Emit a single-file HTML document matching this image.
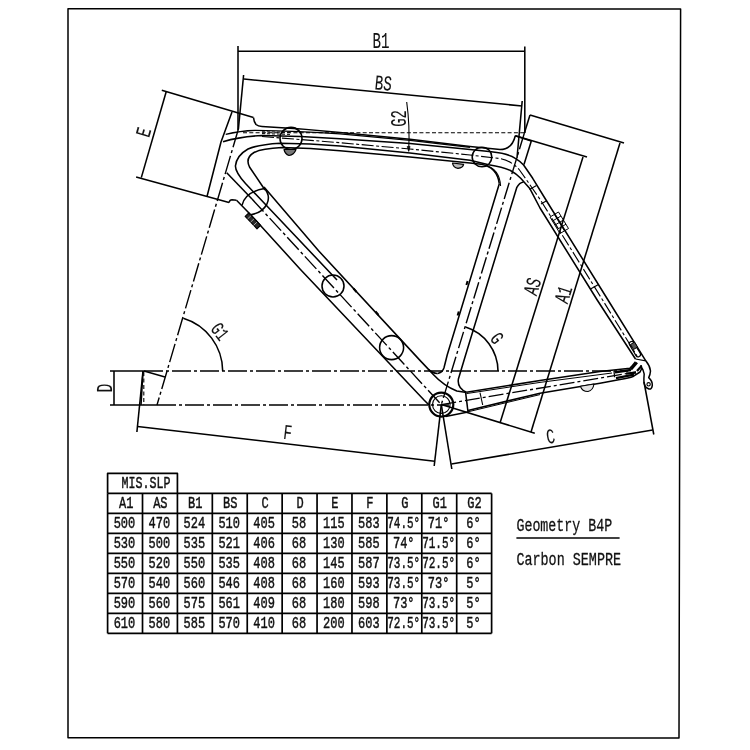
<!DOCTYPE html>
<html lang="en">
<head>
<meta charset="utf-8">
<title>Geometry B4P - Carbon SEMPRE</title>
<style>
html,body{margin:0;padding:0;background:#fff;}
body{width:750px;height:750px;overflow:hidden;font-family:"Liberation Mono",monospace;}
svg{display:block;}
svg *{stroke:#000;stroke-linecap:butt;stroke-linejoin:round;}

svg text{font-family:"Liberation Mono",monospace;fill:#111;}
</style>
</head>
<body>
<svg width="750" height="750" viewBox="0 0 750 750">
<defs><filter id="gray" x="0" y="0" width="750" height="750" filterUnits="userSpaceOnUse" color-interpolation-filters="sRGB"><feColorMatrix type="saturate" values="0"/></filter></defs>
<rect x="0" y="0" width="750" height="750" style="fill:#fff;stroke:none"/>
<g filter="url(#gray)">
<path d="M68,8.7 L680.6,9 L679,738 L68,737.7 Z" stroke-width="1.5" fill="none"/>
<line x1="238" y1="46" x2="238" y2="130" stroke-width="1.55"/>
<line x1="524.8" y1="46.5" x2="524.8" y2="133" stroke-width="1.55"/>
<line x1="238" y1="51.3" x2="524.8" y2="51.3" stroke-width="1.55"/>
<line x1="243.6" y1="75" x2="238.4" y2="129" stroke-width="1.55"/>
<line x1="522.2" y1="101" x2="517" y2="158" stroke-width="1.55"/>
<line x1="244" y1="79" x2="522" y2="106" stroke-width="1.55"/>
<text transform="translate(381.00,41.00) rotate(0) scale(0.6664,1)" y="7.00" font-size="21.25" text-anchor="middle" font-weight="normal" style="stroke:#111;stroke-width:0.1">B1</text>
<text transform="translate(383.40,83.00) rotate(5.6) scale(0.6664,1)" y="7.00" font-size="21.25" text-anchor="middle" font-weight="normal" style="stroke:#111;stroke-width:0.1">BS</text>
<line x1="243" y1="132.7" x2="524" y2="132.7" stroke-width="1.1" stroke-dasharray="4 2.3"/>
<path d="M406.7,102 Q410,126 408.7,150.7" stroke-width="1.1" fill="none"/>
<path d="M408.7,151.5 l-1.6,-5 l3,0 z" stroke-width="0.6" fill="#111"/>
<text transform="translate(398.50,118.50) rotate(-90) scale(0.6507,1)" y="7.00" font-size="21.25" text-anchor="middle" font-weight="normal" style="stroke:#111;stroke-width:0.1">G2</text>
<line x1="161.8" y1="90.3" x2="253.5" y2="117.6" stroke-width="1.55"/>
<line x1="166.2" y1="91.7" x2="141.3" y2="177.6" stroke-width="1.55"/>
<line x1="136.1" y1="176.9" x2="229" y2="202.6" stroke-width="1.55"/>
<text transform="translate(143.50,132.10) rotate(-73.5) scale(0.6664,1)" y="7.00" font-size="21.25" text-anchor="middle" font-weight="normal" style="stroke:#111;stroke-width:0.1">E</text>
<path d="M232,112 L221,142 L207,196.5" stroke-width="1.55" fill="none"/>
<path d="M253.5,117.6 Q254,122 256,124.5 Q258,126.3 262,126.6" stroke-width="1.55" fill="none"/>
<path d="M229,202.6 Q229.8,199.8 232,199.8 L236.5,200.3" stroke-width="1.55" fill="none"/>
<line x1="238.4" y1="129" x2="157" y2="405" stroke-width="1.4" stroke-dasharray="19 3 3 3"/>
<path d="M262,126.6 Q300,128.5 340,132.6 L410,139.2 L470,146.5 L500,149.6 Q512,149.5 515.3,135.7" stroke-width="1.55" fill="none"/>
<path d="M225.7,134.3 Q240,130.6 255,130.3 Q300,131 340,133.9 L410,140.4 L470,147.4" stroke-width="1.2" fill="none"/>
<path d="M223,141.7 Q240,136.5 262,135.5 Q300,135.8 340,138.7 L410,143.4 L470,149.4 L491.3,151.8 Q508,153.5 515.3,158.3 Q520,161 523.6,165 L532.7,178.3 L546,200 L608,300 L645.8,360.8" stroke-width="1.55" fill="none"/>
<path d="M262,136.5 L340,142.7 L410,149 L470,155 L500,158.6 Q512,161 519.5,170 L528,182 L540.5,200 L602.6,300 L637,356" stroke-width="1.1" fill="none" stroke-dasharray="12 2.5 3 2.5"/>
<path d="M337,280 L266,205 L245.5,183.5 Q235.5,172.5 235.4,166 Q236.5,155.5 248,149 Q258,144.5 280,143.2 Q310,143.5 340,146 L410,153 L470,160.2 L488.7,164.8 Q503,167.3 510,170.3 Q516,173.5 520.7,178.3 L530,188.8 L540,208 L597.2,300 L635.5,359" stroke-width="1.55" fill="none"/>
<path d="M265,190 L249.5,167 Q245,158 254,152.5 Q262,148.5 282,147.6 Q310,147.8 340,150.7 L410,157 L470,163 L481,164.3 Q497,167 499.3,183.7" stroke-width="1.55" fill="none"/>
<path d="M484.7,165.3 Q499.5,168.5 500.6,186" stroke-width="1.1" fill="none"/>
<line x1="262" y1="131.8" x2="290" y2="132.4" stroke-width="1" stroke-dasharray="3 2"/>
<line x1="262" y1="133.6" x2="290" y2="134.4" stroke-width="1" stroke-dasharray="3 2"/>
<circle cx="291" cy="138.4" r="11" stroke-width="1.55" fill="none"/>
<circle cx="482" cy="157" r="9.8" stroke-width="1.55" fill="none"/>
<path d="M284,149.5 Q285,154 289,155.5 Q294,155 296,149.5 Z" stroke-width="1.2" fill="#777"/>
<path d="M452.5,163 Q453,167.5 458,168.3 Q463,167.8 463.6,164.3 Z" stroke-width="1.2" fill="#bbb"/>
<path d="M515.3,135.7 L531.3,141" stroke-width="1.55" fill="none"/>
<path d="M531.3,141 L524,164.6" stroke-width="1.55" fill="none"/>
<path d="M499.3,183.7 L447.2,355 L444,367.8 Q442.5,372.6 437.6,373.4" stroke-width="1.55" fill="none"/>
<path d="M523.6,182 Q519.3,182.6 516.7,187.7 L465.6,355 L458.4,379 Q457,388 466.4,392.2" stroke-width="1.55" fill="none"/>
<line x1="524.4" y1="133" x2="441.3" y2="404.6" stroke-width="1.4" stroke-dasharray="17 3 3 3"/>
<line x1="524.4" y1="133" x2="530" y2="115" stroke-width="1.55"/>
<path d="M467.6,281 l-1.2,4 M458.8,311.5 l-1.2,4" stroke-width="2" fill="none"/>
<line x1="515.3" y1="135.7" x2="587" y2="157" stroke-width="1.55"/>
<line x1="530" y1="115" x2="624" y2="143" stroke-width="1.55"/>
<line x1="583" y1="157" x2="500" y2="423" stroke-width="1.55"/>
<line x1="620" y1="143" x2="531" y2="432" stroke-width="1.55"/>
<line x1="441.3" y1="404.6" x2="534.8" y2="433.2" stroke-width="1.55"/>
<text transform="translate(532.40,286.40) rotate(-72.7) scale(0.6664,1)" y="7.00" font-size="21.25" text-anchor="middle" font-weight="normal" style="stroke:#111;stroke-width:0.1">AS</text>
<text transform="translate(563.40,294.40) rotate(-72.7) scale(0.6664,1)" y="7.00" font-size="21.25" text-anchor="middle" font-weight="normal" style="stroke:#111;stroke-width:0.1">A1</text>
<path d="M529.5,189.5 l7,-4 M541,204 l6,-3.5" stroke-width="1.1" fill="none"/>
<path d="M550,217 l8.5,-5 l10,16.5 l-8.5,5 z M552.5,221 l8.5,-5 M555,225 l8.5,-5 M557.5,229.2 l8.5,-5 M554.5,214.5 l10,16.5" stroke-width="1" fill="none"/>
<path d="M590.5,289 l8,-4.6" stroke-width="1.1" fill="none"/>
<path d="M264,187 L318.8,251 L420,360.4 L428.5,369.4 Q433,373.6 437.6,373.4" stroke-width="1.55" fill="none"/>
<path d="M428.5,369.4 L432.8,374 Q444,386 456.8,391 L466.4,392.4" stroke-width="1.55" fill="none"/>
<path d="M236.5,200.3 L250.7,214.7 L300,269 L424,400 L429,405" stroke-width="1.55" fill="none"/>
<path d="M226.7,172.7 L252,199" stroke-width="1.55" fill="none"/>
<line x1="252" y1="199" x2="441.3" y2="404.6" stroke-width="1.4" stroke-dasharray="17 3 3 3"/>
<path d="M242,205.3 Q245,192 264.5,188.5 Q271,196 266.7,204.5 Q262,213 250.7,214.7" stroke-width="1.55" fill="none"/>
<circle cx="333" cy="286" r="11" stroke-width="1.55" fill="none"/>
<circle cx="391.6" cy="347.6" r="12" stroke-width="1.55" fill="none"/>
<path d="M245.2,216.4 L257,228.8 L260.6,225.4 L248.8,213 Z" stroke-width="1.2" fill="#2a2a2a"/>
<path d="M247.5,219 l3.4,-3.2 M250.5,222.2 l3.4,-3.2 M253.5,225.4 l3.4,-3.2" stroke-width="0.7" fill="none" style="stroke:#ddd"/>
<path d="M353.5,288.5 l3,3.5 M375.5,311.5 l3,3.5" stroke-width="2" fill="none"/>
<circle cx="441.3" cy="404.6" r="12" stroke-width="2.2" fill="none"/>
<circle cx="441.3" cy="404.6" r="8.8" stroke-width="1.1" fill="none"/>
<path d="M466.4,392.2 L540,380.6 L600,371.6 L629.9,368.3 L631.7,366.4 L635.5,361.7" stroke-width="1.55" fill="none"/>
<path d="M466.4,393.6 L540,382.4 L612,373" stroke-width="1" fill="none"/>
<line x1="441.3" y1="404.6" x2="636" y2="372" stroke-width="1.3" stroke-dasharray="15 3 3 3"/>
<path d="M468,410.4 L540,393.2 L600,383.2 L620,379.6 Q629,378 633.6,376.2 L640,372 L642,368" stroke-width="1.55" fill="none"/>
<path d="M468,411.8 L540,394.6" stroke-width="1" fill="none"/>
<path d="M465.6,392.4 L468,412" stroke-width="1.55" fill="none"/>
<path d="M480,392.6 L482.7,405" stroke-width="1.1" fill="none"/>
<path d="M445.6,416.6 L468,412" stroke-width="1.55" fill="none"/>
<path d="M580.5,386.3 Q582,391.5 588,391.5 Q593,390.5 594,384 Z" stroke-width="1.1" fill="#e4e4e4"/>
<path d="M614,371 L614.6,377.2" stroke-width="1.2" fill="none"/>
<path d="M615,372.2 L631,370" stroke-width="2.4" fill="none"/>
<path d="M616,378.2 L634,374.6" stroke-width="2.2" fill="none"/>
<path d="M626,373.6 L636,372.6" stroke-width="2.2" fill="none"/>
<path d="M631,369.5 L637,362.5" stroke-width="2.6" fill="none"/>
<path d="M637,371 L641.5,366" stroke-width="2.2" fill="none"/>
<path d="M629.6,345 L636,355.6 A2.4,2.4 0 0 0 640.2,353.2 L633.8,342.6 A2.4,2.4 0 0 0 629.6,345 Z" stroke-width="1.2" fill="none"/>
<path d="M630.5,344.5 l4,-2.4 l3,5 l-4,2.4 z" stroke-width="1" fill="#555"/>
<path d="M635.5,359 L645.8,360.8" stroke-width="1.2" fill="none"/>
<path d="M645.8,360.8 Q650,366 650.5,371 Q650.2,375 648.7,377.6 Q652.6,381 652.3,385.5 Q651.6,389.6 649,389 L646.5,387.8 Q643.5,385 643.9,378.5 Q645,374 643,370 Q641.2,367.5 641,365" stroke-width="1.5" fill="none"/>
<circle cx="648.6" cy="384.3" r="1.7" stroke-width="1.1" fill="none"/>
<line x1="110" y1="371" x2="144" y2="371" stroke-width="1.55"/>
<line x1="144" y1="371" x2="628" y2="371" stroke-width="1.5" stroke-dasharray="19 3 3 3"/>
<line x1="110" y1="405" x2="157" y2="405" stroke-width="1.55"/>
<line x1="157" y1="405" x2="449" y2="405" stroke-width="1.5" stroke-dasharray="19 3 3 3"/>
<line x1="114" y1="371" x2="114" y2="405" stroke-width="1.55"/>
<text transform="translate(105.00,388.00) rotate(-90) scale(0.6664,1)" y="7.00" font-size="21.25" text-anchor="middle" font-weight="normal" style="stroke:#111;stroke-width:0.1">D</text>
<path d="M144,371 L165,377" stroke-width="1.55" fill="none"/>
<path d="M143,371 L141,405" stroke-width="1.55" fill="none"/>
<line x1="143.8" y1="372" x2="143.8" y2="405" stroke-width="1.1" stroke-dasharray="4 2.5"/>
<path d="M222.7,371 A55.6,55.6 0 0 0 183.3,318.2" stroke-width="1.55" fill="none"/>
<text transform="translate(220.00,331.50) rotate(52) scale(0.6924,1)" y="6.50" font-size="19.74" text-anchor="middle" font-weight="normal" style="stroke:#111;stroke-width:0.1">G1</text>
<path d="M498,371 A46.3,46.3 0 0 0 465.5,327" stroke-width="1.55" fill="none"/>
<text transform="translate(497.00,338.00) rotate(54) scale(0.7177,1)" y="6.50" font-size="19.74" text-anchor="middle" font-weight="normal" style="stroke:#111;stroke-width:0.1">G</text>
<line x1="143" y1="371" x2="136.9" y2="432" stroke-width="1.55"/>
<line x1="137.6" y1="426.4" x2="434.6" y2="461.2" stroke-width="1.55"/>
<line x1="441.3" y1="404.6" x2="434.2" y2="466" stroke-width="1.55"/>
<text transform="translate(287.80,432.20) rotate(6.6) scale(0.6664,1)" y="7.00" font-size="21.25" text-anchor="middle" font-weight="normal" style="stroke:#111;stroke-width:0.1">F</text>
<line x1="441.3" y1="404.6" x2="451.8" y2="469" stroke-width="1.55"/>
<line x1="451.4" y1="464" x2="652.6" y2="430" stroke-width="1.55"/>
<line x1="644" y1="382" x2="653.8" y2="434.5" stroke-width="1.55"/>
<text transform="translate(550.40,436.50) rotate(-9.6) scale(0.6664,1)" y="7.00" font-size="21.25" text-anchor="middle" font-weight="normal" style="stroke:#111;stroke-width:0.1">C</text>
<path d="M107.6,493.4 L107.6,473.4 L177.42,473.4 L177.42,493.4" stroke-width="1.7" fill="none"/>
<line x1="107.6" y1="493.4" x2="491.61" y2="493.4" stroke-width="1.7"/>
<line x1="107.6" y1="513.4" x2="491.61" y2="513.4" stroke-width="1.7"/>
<line x1="107.6" y1="533.4" x2="491.61" y2="533.4" stroke-width="1.7"/>
<line x1="107.6" y1="553.4" x2="491.61" y2="553.4" stroke-width="1.7"/>
<line x1="107.6" y1="573.4" x2="491.61" y2="573.4" stroke-width="1.7"/>
<line x1="107.6" y1="593.4" x2="491.61" y2="593.4" stroke-width="1.7"/>
<line x1="107.6" y1="613.4" x2="491.61" y2="613.4" stroke-width="1.7"/>
<line x1="107.6" y1="633.4" x2="491.61" y2="633.4" stroke-width="1.7"/>
<line x1="107.6" y1="493.4" x2="107.6" y2="633.4" stroke-width="1.7"/>
<line x1="142.51" y1="493.4" x2="142.51" y2="633.4" stroke-width="1.7"/>
<line x1="177.42" y1="493.4" x2="177.42" y2="633.4" stroke-width="1.7"/>
<line x1="212.32999999999998" y1="493.4" x2="212.32999999999998" y2="633.4" stroke-width="1.7"/>
<line x1="247.23999999999998" y1="493.4" x2="247.23999999999998" y2="633.4" stroke-width="1.7"/>
<line x1="282.15" y1="493.4" x2="282.15" y2="633.4" stroke-width="1.7"/>
<line x1="317.05999999999995" y1="493.4" x2="317.05999999999995" y2="633.4" stroke-width="1.7"/>
<line x1="351.96999999999997" y1="493.4" x2="351.96999999999997" y2="633.4" stroke-width="1.7"/>
<line x1="386.88" y1="493.4" x2="386.88" y2="633.4" stroke-width="1.7"/>
<line x1="421.78999999999996" y1="493.4" x2="421.78999999999996" y2="633.4" stroke-width="1.7"/>
<line x1="456.69999999999993" y1="493.4" x2="456.69999999999993" y2="633.4" stroke-width="1.7"/>
<line x1="491.61" y1="493.4" x2="491.61" y2="633.4" stroke-width="1.7"/>
<text transform="translate(146.11,482.60) rotate(0) scale(0.7249,1)" y="5.30" font-size="16.09" text-anchor="middle" font-weight="normal" style="stroke:#111;stroke-width:0.45">MIS.SLP</text>
<text transform="translate(126.25,502.70) rotate(0) scale(0.7456,1)" y="5.30" font-size="16.09" text-anchor="middle" font-weight="normal" style="stroke:#111;stroke-width:0.45">A1</text>
<text transform="translate(160.36,502.70) rotate(0) scale(0.7456,1)" y="5.30" font-size="16.09" text-anchor="middle" font-weight="normal" style="stroke:#111;stroke-width:0.45">AS</text>
<text transform="translate(195.28,502.70) rotate(0) scale(0.7456,1)" y="5.30" font-size="16.09" text-anchor="middle" font-weight="normal" style="stroke:#111;stroke-width:0.45">B1</text>
<text transform="translate(230.18,502.70) rotate(0) scale(0.7456,1)" y="5.30" font-size="16.09" text-anchor="middle" font-weight="normal" style="stroke:#111;stroke-width:0.45">BS</text>
<text transform="translate(265.09,502.70) rotate(0) scale(0.7456,1)" y="5.30" font-size="16.09" text-anchor="middle" font-weight="normal" style="stroke:#111;stroke-width:0.45">C</text>
<text transform="translate(300.00,502.70) rotate(0) scale(0.7456,1)" y="5.30" font-size="16.09" text-anchor="middle" font-weight="normal" style="stroke:#111;stroke-width:0.45">D</text>
<text transform="translate(334.91,502.70) rotate(0) scale(0.7456,1)" y="5.30" font-size="16.09" text-anchor="middle" font-weight="normal" style="stroke:#111;stroke-width:0.45">E</text>
<text transform="translate(369.82,502.70) rotate(0) scale(0.7456,1)" y="5.30" font-size="16.09" text-anchor="middle" font-weight="normal" style="stroke:#111;stroke-width:0.45">F</text>
<text transform="translate(404.73,502.70) rotate(0) scale(0.7456,1)" y="5.30" font-size="16.09" text-anchor="middle" font-weight="normal" style="stroke:#111;stroke-width:0.45">G</text>
<text transform="translate(439.64,502.70) rotate(0) scale(0.7456,1)" y="5.30" font-size="16.09" text-anchor="middle" font-weight="normal" style="stroke:#111;stroke-width:0.45">G1</text>
<text transform="translate(474.55,502.70) rotate(0) scale(0.7456,1)" y="5.30" font-size="16.09" text-anchor="middle" font-weight="normal" style="stroke:#111;stroke-width:0.45">G2</text>
<text transform="translate(124.45,522.70) rotate(0) scale(0.7456,1)" y="5.30" font-size="16.09" text-anchor="middle" font-weight="normal" style="stroke:#111;stroke-width:0.45">500</text>
<text transform="translate(159.36,522.70) rotate(0) scale(0.7456,1)" y="5.30" font-size="16.09" text-anchor="middle" font-weight="normal" style="stroke:#111;stroke-width:0.45">470</text>
<text transform="translate(194.28,522.70) rotate(0) scale(0.7456,1)" y="5.30" font-size="16.09" text-anchor="middle" font-weight="normal" style="stroke:#111;stroke-width:0.45">524</text>
<text transform="translate(229.18,522.70) rotate(0) scale(0.7456,1)" y="5.30" font-size="16.09" text-anchor="middle" font-weight="normal" style="stroke:#111;stroke-width:0.45">510</text>
<text transform="translate(264.09,522.70) rotate(0) scale(0.7456,1)" y="5.30" font-size="16.09" text-anchor="middle" font-weight="normal" style="stroke:#111;stroke-width:0.45">405</text>
<text transform="translate(299.00,522.70) rotate(0) scale(0.7456,1)" y="5.30" font-size="16.09" text-anchor="middle" font-weight="normal" style="stroke:#111;stroke-width:0.45">58</text>
<text transform="translate(333.91,522.70) rotate(0) scale(0.7456,1)" y="5.30" font-size="16.09" text-anchor="middle" font-weight="normal" style="stroke:#111;stroke-width:0.45">115</text>
<text transform="translate(368.82,522.70) rotate(0) scale(0.7456,1)" y="5.30" font-size="16.09" text-anchor="middle" font-weight="normal" style="stroke:#111;stroke-width:0.45">583</text>
<text transform="translate(403.73,522.70) rotate(0) scale(0.6834,1)" y="5.30" font-size="16.09" text-anchor="middle" font-weight="normal" style="stroke:#111;stroke-width:0.45">74.5°</text>
<text transform="translate(438.64,522.70) rotate(0) scale(0.7456,1)" y="5.30" font-size="16.09" text-anchor="middle" font-weight="normal" style="stroke:#111;stroke-width:0.45">71°</text>
<text transform="translate(473.55,522.70) rotate(0) scale(0.7456,1)" y="5.30" font-size="16.09" text-anchor="middle" font-weight="normal" style="stroke:#111;stroke-width:0.45">6°</text>
<text transform="translate(124.45,542.70) rotate(0) scale(0.7456,1)" y="5.30" font-size="16.09" text-anchor="middle" font-weight="normal" style="stroke:#111;stroke-width:0.45">530</text>
<text transform="translate(159.36,542.70) rotate(0) scale(0.7456,1)" y="5.30" font-size="16.09" text-anchor="middle" font-weight="normal" style="stroke:#111;stroke-width:0.45">500</text>
<text transform="translate(194.28,542.70) rotate(0) scale(0.7456,1)" y="5.30" font-size="16.09" text-anchor="middle" font-weight="normal" style="stroke:#111;stroke-width:0.45">535</text>
<text transform="translate(229.18,542.70) rotate(0) scale(0.7456,1)" y="5.30" font-size="16.09" text-anchor="middle" font-weight="normal" style="stroke:#111;stroke-width:0.45">521</text>
<text transform="translate(264.09,542.70) rotate(0) scale(0.7456,1)" y="5.30" font-size="16.09" text-anchor="middle" font-weight="normal" style="stroke:#111;stroke-width:0.45">406</text>
<text transform="translate(299.00,542.70) rotate(0) scale(0.7456,1)" y="5.30" font-size="16.09" text-anchor="middle" font-weight="normal" style="stroke:#111;stroke-width:0.45">68</text>
<text transform="translate(333.91,542.70) rotate(0) scale(0.7456,1)" y="5.30" font-size="16.09" text-anchor="middle" font-weight="normal" style="stroke:#111;stroke-width:0.45">130</text>
<text transform="translate(368.82,542.70) rotate(0) scale(0.7456,1)" y="5.30" font-size="16.09" text-anchor="middle" font-weight="normal" style="stroke:#111;stroke-width:0.45">585</text>
<text transform="translate(403.73,542.70) rotate(0) scale(0.7456,1)" y="5.30" font-size="16.09" text-anchor="middle" font-weight="normal" style="stroke:#111;stroke-width:0.45">74°</text>
<text transform="translate(438.64,542.70) rotate(0) scale(0.6834,1)" y="5.30" font-size="16.09" text-anchor="middle" font-weight="normal" style="stroke:#111;stroke-width:0.45">71.5°</text>
<text transform="translate(473.55,542.70) rotate(0) scale(0.7456,1)" y="5.30" font-size="16.09" text-anchor="middle" font-weight="normal" style="stroke:#111;stroke-width:0.45">6°</text>
<text transform="translate(124.45,562.70) rotate(0) scale(0.7456,1)" y="5.30" font-size="16.09" text-anchor="middle" font-weight="normal" style="stroke:#111;stroke-width:0.45">550</text>
<text transform="translate(159.36,562.70) rotate(0) scale(0.7456,1)" y="5.30" font-size="16.09" text-anchor="middle" font-weight="normal" style="stroke:#111;stroke-width:0.45">520</text>
<text transform="translate(194.28,562.70) rotate(0) scale(0.7456,1)" y="5.30" font-size="16.09" text-anchor="middle" font-weight="normal" style="stroke:#111;stroke-width:0.45">550</text>
<text transform="translate(229.18,562.70) rotate(0) scale(0.7456,1)" y="5.30" font-size="16.09" text-anchor="middle" font-weight="normal" style="stroke:#111;stroke-width:0.45">535</text>
<text transform="translate(264.09,562.70) rotate(0) scale(0.7456,1)" y="5.30" font-size="16.09" text-anchor="middle" font-weight="normal" style="stroke:#111;stroke-width:0.45">408</text>
<text transform="translate(299.00,562.70) rotate(0) scale(0.7456,1)" y="5.30" font-size="16.09" text-anchor="middle" font-weight="normal" style="stroke:#111;stroke-width:0.45">68</text>
<text transform="translate(333.91,562.70) rotate(0) scale(0.7456,1)" y="5.30" font-size="16.09" text-anchor="middle" font-weight="normal" style="stroke:#111;stroke-width:0.45">145</text>
<text transform="translate(368.82,562.70) rotate(0) scale(0.7456,1)" y="5.30" font-size="16.09" text-anchor="middle" font-weight="normal" style="stroke:#111;stroke-width:0.45">587</text>
<text transform="translate(403.73,562.70) rotate(0) scale(0.6834,1)" y="5.30" font-size="16.09" text-anchor="middle" font-weight="normal" style="stroke:#111;stroke-width:0.45">73.5°</text>
<text transform="translate(438.64,562.70) rotate(0) scale(0.6834,1)" y="5.30" font-size="16.09" text-anchor="middle" font-weight="normal" style="stroke:#111;stroke-width:0.45">72.5°</text>
<text transform="translate(473.55,562.70) rotate(0) scale(0.7456,1)" y="5.30" font-size="16.09" text-anchor="middle" font-weight="normal" style="stroke:#111;stroke-width:0.45">6°</text>
<text transform="translate(124.45,582.70) rotate(0) scale(0.7456,1)" y="5.30" font-size="16.09" text-anchor="middle" font-weight="normal" style="stroke:#111;stroke-width:0.45">570</text>
<text transform="translate(159.36,582.70) rotate(0) scale(0.7456,1)" y="5.30" font-size="16.09" text-anchor="middle" font-weight="normal" style="stroke:#111;stroke-width:0.45">540</text>
<text transform="translate(194.28,582.70) rotate(0) scale(0.7456,1)" y="5.30" font-size="16.09" text-anchor="middle" font-weight="normal" style="stroke:#111;stroke-width:0.45">560</text>
<text transform="translate(229.18,582.70) rotate(0) scale(0.7456,1)" y="5.30" font-size="16.09" text-anchor="middle" font-weight="normal" style="stroke:#111;stroke-width:0.45">546</text>
<text transform="translate(264.09,582.70) rotate(0) scale(0.7456,1)" y="5.30" font-size="16.09" text-anchor="middle" font-weight="normal" style="stroke:#111;stroke-width:0.45">408</text>
<text transform="translate(299.00,582.70) rotate(0) scale(0.7456,1)" y="5.30" font-size="16.09" text-anchor="middle" font-weight="normal" style="stroke:#111;stroke-width:0.45">68</text>
<text transform="translate(333.91,582.70) rotate(0) scale(0.7456,1)" y="5.30" font-size="16.09" text-anchor="middle" font-weight="normal" style="stroke:#111;stroke-width:0.45">160</text>
<text transform="translate(368.82,582.70) rotate(0) scale(0.7456,1)" y="5.30" font-size="16.09" text-anchor="middle" font-weight="normal" style="stroke:#111;stroke-width:0.45">593</text>
<text transform="translate(403.73,582.70) rotate(0) scale(0.6834,1)" y="5.30" font-size="16.09" text-anchor="middle" font-weight="normal" style="stroke:#111;stroke-width:0.45">73.5°</text>
<text transform="translate(438.64,582.70) rotate(0) scale(0.7456,1)" y="5.30" font-size="16.09" text-anchor="middle" font-weight="normal" style="stroke:#111;stroke-width:0.45">73°</text>
<text transform="translate(473.55,582.70) rotate(0) scale(0.7456,1)" y="5.30" font-size="16.09" text-anchor="middle" font-weight="normal" style="stroke:#111;stroke-width:0.45">5°</text>
<text transform="translate(124.45,602.70) rotate(0) scale(0.7456,1)" y="5.30" font-size="16.09" text-anchor="middle" font-weight="normal" style="stroke:#111;stroke-width:0.45">590</text>
<text transform="translate(159.36,602.70) rotate(0) scale(0.7456,1)" y="5.30" font-size="16.09" text-anchor="middle" font-weight="normal" style="stroke:#111;stroke-width:0.45">560</text>
<text transform="translate(194.28,602.70) rotate(0) scale(0.7456,1)" y="5.30" font-size="16.09" text-anchor="middle" font-weight="normal" style="stroke:#111;stroke-width:0.45">575</text>
<text transform="translate(229.18,602.70) rotate(0) scale(0.7456,1)" y="5.30" font-size="16.09" text-anchor="middle" font-weight="normal" style="stroke:#111;stroke-width:0.45">561</text>
<text transform="translate(264.09,602.70) rotate(0) scale(0.7456,1)" y="5.30" font-size="16.09" text-anchor="middle" font-weight="normal" style="stroke:#111;stroke-width:0.45">409</text>
<text transform="translate(299.00,602.70) rotate(0) scale(0.7456,1)" y="5.30" font-size="16.09" text-anchor="middle" font-weight="normal" style="stroke:#111;stroke-width:0.45">68</text>
<text transform="translate(333.91,602.70) rotate(0) scale(0.7456,1)" y="5.30" font-size="16.09" text-anchor="middle" font-weight="normal" style="stroke:#111;stroke-width:0.45">180</text>
<text transform="translate(368.82,602.70) rotate(0) scale(0.7456,1)" y="5.30" font-size="16.09" text-anchor="middle" font-weight="normal" style="stroke:#111;stroke-width:0.45">598</text>
<text transform="translate(403.73,602.70) rotate(0) scale(0.7456,1)" y="5.30" font-size="16.09" text-anchor="middle" font-weight="normal" style="stroke:#111;stroke-width:0.45">73°</text>
<text transform="translate(438.64,602.70) rotate(0) scale(0.6834,1)" y="5.30" font-size="16.09" text-anchor="middle" font-weight="normal" style="stroke:#111;stroke-width:0.45">73.5°</text>
<text transform="translate(473.55,602.70) rotate(0) scale(0.7456,1)" y="5.30" font-size="16.09" text-anchor="middle" font-weight="normal" style="stroke:#111;stroke-width:0.45">5°</text>
<text transform="translate(124.45,622.70) rotate(0) scale(0.7456,1)" y="5.30" font-size="16.09" text-anchor="middle" font-weight="normal" style="stroke:#111;stroke-width:0.45">610</text>
<text transform="translate(159.36,622.70) rotate(0) scale(0.7456,1)" y="5.30" font-size="16.09" text-anchor="middle" font-weight="normal" style="stroke:#111;stroke-width:0.45">580</text>
<text transform="translate(194.28,622.70) rotate(0) scale(0.7456,1)" y="5.30" font-size="16.09" text-anchor="middle" font-weight="normal" style="stroke:#111;stroke-width:0.45">585</text>
<text transform="translate(229.18,622.70) rotate(0) scale(0.7456,1)" y="5.30" font-size="16.09" text-anchor="middle" font-weight="normal" style="stroke:#111;stroke-width:0.45">570</text>
<text transform="translate(264.09,622.70) rotate(0) scale(0.7456,1)" y="5.30" font-size="16.09" text-anchor="middle" font-weight="normal" style="stroke:#111;stroke-width:0.45">410</text>
<text transform="translate(299.00,622.70) rotate(0) scale(0.7456,1)" y="5.30" font-size="16.09" text-anchor="middle" font-weight="normal" style="stroke:#111;stroke-width:0.45">68</text>
<text transform="translate(333.91,622.70) rotate(0) scale(0.7456,1)" y="5.30" font-size="16.09" text-anchor="middle" font-weight="normal" style="stroke:#111;stroke-width:0.45">200</text>
<text transform="translate(368.82,622.70) rotate(0) scale(0.7456,1)" y="5.30" font-size="16.09" text-anchor="middle" font-weight="normal" style="stroke:#111;stroke-width:0.45">603</text>
<text transform="translate(403.73,622.70) rotate(0) scale(0.6834,1)" y="5.30" font-size="16.09" text-anchor="middle" font-weight="normal" style="stroke:#111;stroke-width:0.45">72.5°</text>
<text transform="translate(438.64,622.70) rotate(0) scale(0.6834,1)" y="5.30" font-size="16.09" text-anchor="middle" font-weight="normal" style="stroke:#111;stroke-width:0.45">73.5°</text>
<text transform="translate(473.55,622.70) rotate(0) scale(0.7456,1)" y="5.30" font-size="16.09" text-anchor="middle" font-weight="normal" style="stroke:#111;stroke-width:0.45">5°</text>
<text transform="translate(516.40,524.70) rotate(0) scale(0.6969,1)" y="6.30" font-size="19.13" text-anchor="start" font-weight="normal" style="stroke:#111;stroke-width:0.3">Geometry B4P</text>
<line x1="516.4" y1="538" x2="619.6" y2="538" stroke-width="1.5"/>
<text transform="translate(516.40,558.70) rotate(0) scale(0.7013,1)" y="6.30" font-size="19.13" text-anchor="start" font-weight="normal" style="stroke:#111;stroke-width:0.3">Carbon SEMPRE</text>
</g>
</svg>
</body>
</html>
